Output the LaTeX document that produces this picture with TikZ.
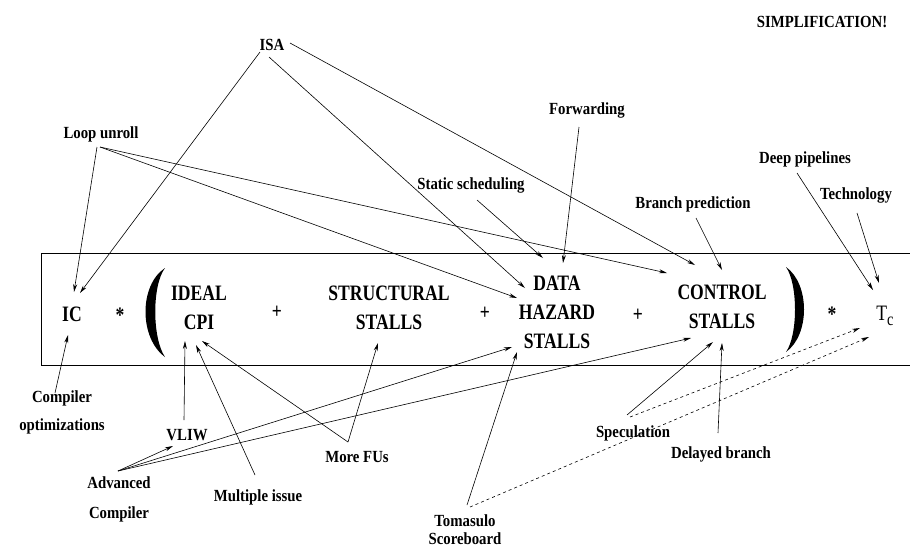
\documentclass[tikz,border=0pt]{standalone}
\usepackage{fontspec}
\newfontfamily\causefont{Liberation Serif}[FakeStretch=0.87]
\newfontfamily\termfont{Liberation Serif}[FakeStretch=0.80]
\usetikzlibrary{arrows.meta}

\tikzset{%
  % Specifications for style of nodes:
         cause/.style = {inner sep=2pt, align=center, font=\causefont\bfseries\fontsize{17}{28}\selectfont},
         term/.style  = {inner sep=2pt, align=center, font=\termfont\bfseries\fontsize{22}{29}\selectfont},
         oper/.style  = {inner sep=1pt, font=\termfont\bfseries\fontsize{22}{22}\selectfont},
  % Specifications for style of arrows:
         link/.style  = {-{Stealth[length=8pt,width=4pt]}, line width=0.6pt},
         dlink/.style = {link, dash pattern=on 3pt off 3pt},
}

\begin{document}
\begin{tikzpicture}[x=1pt, y=-1pt]
    \useasboundingbox (0,0) rectangle (910,552);

    % Frame and parentheses
    \draw[line width=0.8pt] (915,253) -- (41,253) -- (41,365) -- (915,365);
    \fill (165,268) .. controls (139,285) and (139,338) .. (165,357)
                    .. controls (152,338) and (152,285) .. (165,268) -- cycle;
    \fill (786,267) .. controls (810,284) and (810,335) .. (786,352)
                    .. controls (798,335) and (798,284) .. (786,267) -- cycle;

    % Draw nodes
    \node (ic)       [term]  at (72,314)   {IC};
    \node (star1)    [oper]  at (120,315)  {*};
    \node (ideal)    [term]  at (199,308)  {IDEAL\\CPI};
    \node (plus1)    [oper]  at (277,312)  {+};
    \node (struct)   [term]  at (389,308)  {STRUCTURAL\\STALLS};
    \node (plus2)    [oper]  at (485,313)  {+};
    \node (data)     [term]  at (557,312)  {DATA\\HAZARD\\STALLS};
    \node (plus3)    [oper]  at (638,315)  {+};
    \node (control)  [term]  at (722,307)  {CONTROL\\STALLS};
    \node (star2)    [oper]  at (832,314)  {*};
    \node (tc)       [term, font=\termfont\fontsize{22}{22}\selectfont] at (885,316)
                     {T\raisebox{-5pt}{\fontsize{18}{18}\selectfont c}};

    \node (simp)     [cause] at (822,22)   {SIMPLIFICATION!};
    \node (isa)      [cause] at (272,45)   {ISA};
    \node (loop)     [cause] at (101,134)  {Loop unroll};
    \node (fwd)      [cause] at (587,110)  {Forwarding};
    \node (static)   [cause] at (471,185)  {Static scheduling};
    \node (branch)   [cause] at (693,204)  {Branch prediction};
    \node (deep)     [cause] at (805,159)  {Deep pipelines};
    \node (tech)     [cause] at (856,195)  {Technology};

    \node (comp)     [cause] at (62,412)   {Compiler\\optimizations};
    \node (vliw)     [cause] at (187,435)  {VLIW};
    \node (adv)      [cause, font=\causefont\bfseries\fontsize{17}{30}\selectfont] at (119,499) {Advanced\\Compiler};
    \node (multi)    [cause] at (258,497)  {Multiple issue};
    \node (fus)      [cause] at (357,457)  {More FUs};
    \node (toma)     [cause, font=\causefont\bfseries\fontsize{17}{18}\selectfont] at (465,530) {Tomasulo\\Scoreboard};
    \node (spec)     [cause] at (633,433)  {Speculation};
    \node (delayed)  [cause] at (721,454)  {Delayed branch};

    % Draw arrows
    \draw[link] ([shift={(-12,7)}]isa.center)    -- ([shift={(8,-21)}]ic.center);
    \draw[link] ([shift={(-3,12)}]isa.center)    -- ([shift={(-32,-24)}]data.center);
    \draw[link] ([shift={(18,-2)}]isa.center)    -- ([shift={(-27,-42)}]control.center);

    \draw[link] ([shift={(-4,13)}]loop.center)   -- ([shift={(2,-22)}]ic.center);
    \draw[link] ([shift={(-1,13)}]loop.center)   -- ([shift={(-40,-14)}]data.center);
    \draw[link] ([shift={(-1,13)}]loop.center)   -- ([shift={(-55,-34)}]control.center);

    \draw[link] ([shift={(6,15)}]static.center)  -- ([shift={(-14,-54)}]data.center);
    \draw[link] ([shift={(-8,17)}]fwd.center)    -- ([shift={(6,-49)}]data.center);
    \draw[link] ([shift={(3,14)}]branch.center)  -- ([shift={(0,-37)}]control.center);
    \draw[link] ([shift={(-8,14)}]deep.center)   -- ([shift={(-12,-26)}]tc.center);
    \draw[link] ([shift={(1,18)}]tech.center)    -- ([shift={(-6,-33)}]tc.center);

    \draw[link] ([shift={(-7,-19)}]comp.center)  -- ([shift={(-4,21)}]ic.center);
    \draw[link] ([shift={(-3,-15)}]vliw.center)  -- ([shift={(-14,33)}]ideal.center);
    \draw[link] ([shift={(-1,-28)}]adv.center)   -- ([shift={(-14,11)}]vliw.center);
    \draw[link] ([shift={(-1,-28)}]adv.center)   -- ([shift={(-45,35)}]data.center);
    \draw[link] ([shift={(-1,-28)}]adv.center)   -- ([shift={(-31,31)}]control.center);
    \draw[link] ([shift={(-3,-22)}]multi.center) -- ([shift={(-3,37)}]ideal.center);
    \draw[link] ([shift={(-9,-15)}]fus.center)   -- ([shift={(3,33)}]ideal.center);
    \draw[link] ([shift={(-9,-15)}]fus.center)   -- ([shift={(-11,35)}]struct.center);
    \draw[link] ([shift={(2,-25)}]toma.center)   -- ([shift={(-40,40)}]data.center);
    \draw[link] ([shift={(-6,-18)}]spec.center)  -- ([shift={(-9,35)}]control.center);
    \draw[link] ([shift={(-3,-21)}]delayed.center) -- ([shift={(0,36)}]control.center);

    \draw[dlink] ([shift={(5,-23)}]toma.center)  -- ([shift={(-16,21)}]tc.center);
    \draw[dlink] ([shift={(-3,-16)}]spec.center) -- ([shift={(-25,12)}]tc.center);
\end{tikzpicture}
\end{document}
